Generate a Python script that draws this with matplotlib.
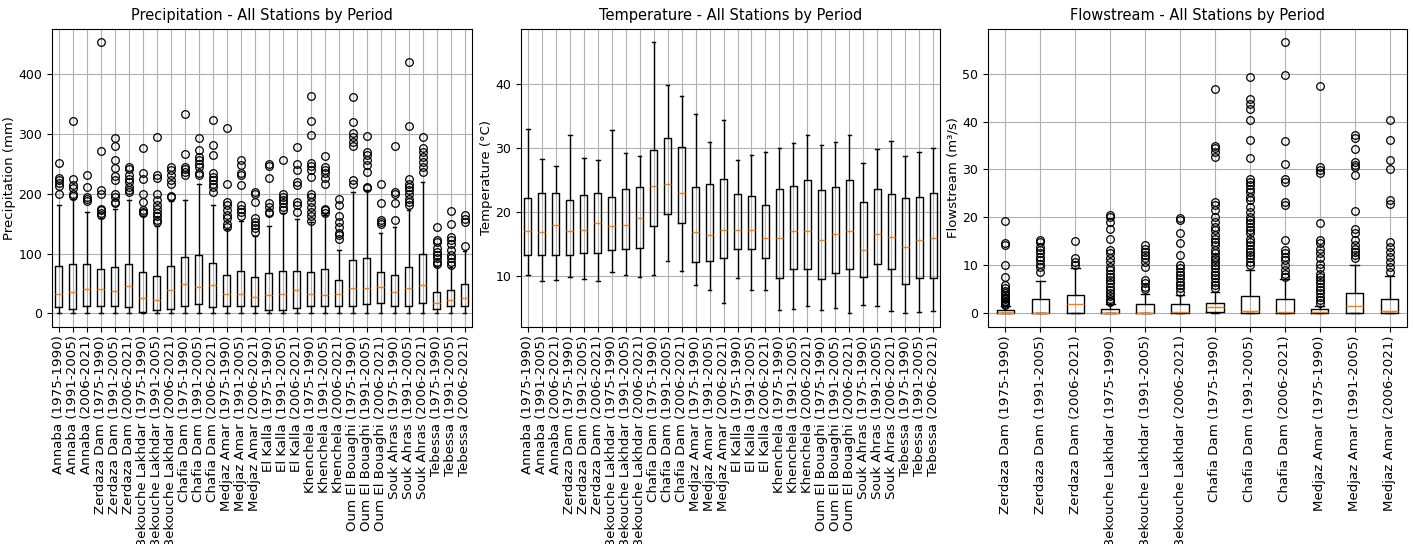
import matplotlib
matplotlib.use("Agg")
import matplotlib.pyplot as plt

stations = ["Annaba", "Zerdaza Dam", "Bekouche Lakhdar", "Chafia Dam", "Medjaz Amar",
            "El Kalla", "Khenchela", "Oum El Bouaghi", "Souk Ahras", "Tebessa"]
periods = ["1975-1990", "1991-2005", "2006-2021"]
flow_stations = ["Zerdaza Dam", "Bekouche Lakhdar", "Chafia Dam", "Medjaz Amar"]

# precipitation (mm), 30 boxes
prec_q1 = [10, 8, 12, 13, 12, 10, 3, 5.5, 6.7, 13, 15.6, 10, 12, 12, 12, 5.6, 5.6, 8.4, 12, 12,
           12, 12, 15.6, 18, 12, 12, 16.7, 6.7, 12, 12]
prec_med = [32, 36, 40, 41, 37, 46, 26, 22, 39, 49, 44.6, 47, 32, 32, 27, 31, 33, 39, 32, 31,
            32, 42, 42, 44, 35, 42, 47, 18, 22, 25]
prec_q3 = [79.7, 82, 82, 73.5, 77.5, 82, 68.5, 63, 79.7, 93.6, 97.5, 85, 65, 71, 61, 67, 71, 71, 68.5, 73.5,
           56, 90, 92, 68.5, 65, 77, 98.6, 36, 39, 49]
prec_lo = [0] * 30
prec_hi = [182, 192, 169, 160, 175, 189, 162, 146, 188, 190, 215.6, 182, 141, 155, 130, 146.5, 168, 158, 152, 165,
           106, 203, 206, 135, 144, 172, 219, 79, 78, 104]
prec_fliers = [
    [251, 227, 223, 218, 213, 200],
    [321, 224, 214, 209, 200, 196],
    [232, 212, 195, 191, 188],
    [453, 271, 206, 199, 175, 172, 168, 165],
    [293, 279, 257, 243, 230, 223, 199, 194, 187, 184],
    [245, 241, 231, 224, 219, 212, 206, 203],
    [276, 235, 224, 200, 187, 173, 170, 168],
    [295, 231, 226, 200, 189, 182, 175, 167, 162, 156, 152],
    [245, 240, 231, 223, 217, 197, 194],
    [333, 266, 245, 241, 237, 231],
    [294, 273, 261, 256, 250, 245, 234, 231],
    [324, 281, 265, 234, 228, 223, 217, 212, 203],
    [310, 216, 187, 181, 173, 164, 159, 150, 145],
    [256, 248, 234, 231, 214, 181, 175, 170, 162],
    [203, 200, 187, 159, 153, 148, 142, 136],
    [250, 247, 226, 184, 178, 170, 167],
    [256, 200, 195, 190, 185, 178, 172],
    [278, 250, 240, 220, 214, 187, 181, 170],
    [363, 321, 298, 251, 247, 240, 228, 200, 195, 187, 178, 170, 162, 155],
    [263, 245, 240, 234, 226, 217, 175, 172, 167],
    [192, 181, 162, 153, 145, 134, 131, 125],
    [362, 320, 301, 295, 287, 279, 223, 217],
    [296, 270, 265, 256, 248, 237, 212, 209],
    [217, 184, 156, 153, 150],
    [279, 203, 200, 184, 156],
    [420, 313, 224, 217, 212, 206, 200, 192, 187, 181],
    [295, 276, 270, 262, 253, 245, 237],
    [145, 122, 120, 109, 103, 97, 92, 86, 82],
    [171, 149, 128, 122, 116, 106, 97, 92, 86, 81],
    [164, 158, 152, 113],
]

# temperature (C), 30 boxes, no fliers
temp_lo = [10.1, 9.1, 9.3, 9.8, 9.5, 9.1, 10.6, 10.1, 9.8, 10.1, 12.3, 10.8, 8.5, 7.8, 5.7,
           9.6, 7.8, 7.8, 4.6, 4.8, 5.2, 4.6, 4.9, 4.1, 5.4, 5.2, 4.5, 4.1, 4.3, 4.4]
temp_q1 = [13.2, 13.2, 13.2, 13.2, 13.5, 13.6, 14.0, 14.2, 14.4, 17.7, 19.6, 18.3, 12.1, 12.3, 12.8,
           14.1, 14.1, 12.8, 9.7, 11.0, 11.0, 9.5, 10.4, 11.0, 9.8, 11.9, 11.0, 8.7, 9.6, 9.7]
temp_med = [17.0, 16.8, 18.0, 17.0, 17.2, 18.2, 17.7, 18.0, 19.0, 24.0, 24.3, 22.9, 16.9, 16.3, 17.1,
            17.2, 17.2, 15.9, 15.9, 17.0, 17.0, 15.6, 16.5, 17.0, 14.0, 16.5, 16.1, 14.5, 15.6, 15.9]
temp_q3 = [22.2, 23.0, 23.0, 21.8, 22.7, 23.0, 22.3, 23.5, 23.8, 29.7, 31.5, 30.2, 23.8, 24.3, 25.1,
           22.8, 22.5, 21.0, 23.6, 24.1, 24.9, 23.4, 23.8, 24.9, 21.5, 23.5, 22.8, 22.2, 22.3, 23.0]
temp_hi = [33.0, 28.2, 27.2, 32.0, 28.4, 28.1, 32.8, 29.2, 28.7, 46.5, 39.8, 38.1, 35.3, 30.9, 34.3,
           28.1, 28.9, 29.4, 30.0, 30.7, 32.0, 30.4, 30.9, 32.0, 27.7, 29.8, 31.1, 28.7, 29.4, 30.0]

# flowstream (m3/s), 12 boxes
flow_lo = [0] * 12
flow_q1 = [0, 0, 0.1, 0, 0, 0, 0.2, 0, 0, 0, 0, 0]
flow_med = [0.15, 0.15, 1.9, 0.15, 0.15, 0.35, 1.25, 0.55, 0.35, 0.2, 1.5, 0.55]
flow_q3 = [0.7, 2.9, 3.8, 0.9, 1.9, 1.9, 2.1, 3.6, 3.1, 1.0, 4.3, 3.1]
flow_hi = [1.6, 6.7, 9.4, 2.0, 4.0, 3.8, 4.5, 9.0, 7.1, 1.5, 10.1, 7.8]
flow_fliers = [
    [19.2, 14.6, 14.2, 10.0, 7.5, 6.0, 5.2, 4.6, 4.2, 3.8, 3.5, 3.2, 2.9, 2.6, 2.3, 2.0, 1.8],
    [15.3, 14.8, 13.9, 13.2, 12.5, 11.8, 11.1, 10.4, 9.7, 8.7],
    [15.1, 11.5, 10.8, 10.1],
    [20.5, 20.0, 19.1, 17.5, 15.6, 13.2, 12.5, 11.5, 10.8, 9.7, 9.0, 8.3, 7.6, 6.9, 6.25, 5.6,
     4.9, 4.2, 3.6, 3.1, 2.6, 2.3],
    [14.2, 13.5, 12.8, 12.2, 11.5, 10.8, 9.7, 6.9, 6.25, 5.6, 5.0],
    [19.8, 19.4, 16.7, 14.7, 12.2, 10.1, 9.4, 8.7, 8.0, 7.3, 6.6, 5.9, 5.2, 4.5],
    [46.7, 35.0, 34.4, 33.7, 32.6, 23.3, 22.6, 21.5, 20.1, 19.1, 18.1, 17.4, 16.3, 15.6, 14.9,
     14.2, 13.2, 12.5, 11.8, 11.25, 10.8, 10.1, 9.4, 8.7, 8.0, 7.3, 6.6, 5.9, 5.2],
    [49.3, 44.6, 43.75, 42.7, 40.3, 36.1, 32.4, 28.1, 27.4, 26.7, 26.0, 25.3, 24.3, 23.6, 22.2,
     21.2, 20.1, 19.4, 18.75, 18.1, 17.4, 16.7, 15.6, 14.9, 14.2, 13.5, 12.8, 12.2, 11.5, 10.8, 10.1],
    [56.5, 49.7, 36.0, 31.1, 28.1, 27.4, 23.3, 22.6, 15.3, 13.2, 12.5, 11.8, 11.1, 10.1, 9.0, 8.3, 7.6],
    [47.4, 30.6, 29.9, 29.2, 18.9, 15.3, 14.6, 13.5, 12.5, 11.5, 10.4, 9.4, 8.3, 7.6, 6.9, 6.25,
     5.6, 4.9, 4.2, 3.5, 2.8, 2.1],
    [37.2, 36.5, 34.2, 31.6, 31.0, 30.6, 28.8, 21.4, 17.6, 16.7, 15.3, 14.2, 13.5, 12.8, 12.2, 11.5],
    [40.3, 36.1, 31.9, 30.2, 23.6, 22.9, 14.9, 13.9, 12.8, 11.8, 10.8, 9.7, 8.7],
]

all_labels = [f"{s} ({p})" for s in stations for p in periods]
flow_labels = [f"{s} ({p})" for s in flow_stations for p in periods]


def make_stats(lo, q1, med, q3, hi, fliers=None):
    stats = []
    for i in range(len(med)):
        stats.append({"whislo": lo[i], "q1": q1[i], "med": med[i], "q3": q3[i],
                      "whishi": hi[i], "fliers": fliers[i] if fliers else []})
    return stats


fig = plt.figure(figsize=(14.13, 5.44), dpi=100)
axes = [fig.add_axes([0.0368, 0.399, 0.297, 0.548]),
        fig.add_axes([0.3687, 0.399, 0.2966, 0.548]),
        fig.add_axes([0.6992, 0.399, 0.2966, 0.548])]

panels = [
    (make_stats(prec_lo, prec_q1, prec_med, prec_q3, prec_hi, prec_fliers), all_labels,
     "Precipitation - All Stations by Period", "Precipitation (mm)"),
    (make_stats(temp_lo, temp_q1, temp_med, temp_q3, temp_hi), all_labels,
     "Temperature - All Stations by Period", "Temperature (°C)"),
    (make_stats(flow_lo, flow_q1, flow_med, flow_q3, flow_hi, flow_fliers), flow_labels,
     "Flowstream - All Stations by Period", "Flowstream (m³/s)"),
]

for ax, (stats, labels, title, ylabel) in zip(axes, panels):
    ax.bxp(stats, flierprops=dict(marker="o", markersize=5.5, markerfacecolor="none",
                                  markeredgecolor="black", markeredgewidth=0.9),
           medianprops=dict(color="C1"))
    ax.set_xticks(range(1, len(labels) + 1))
    ax.set_xticklabels(labels, rotation=90, fontsize=9.6)
    ax.tick_params(axis="x", pad=2.5)
    ax.tick_params(axis="y", labelsize=9)
    ax.set_title(title, fontsize=10.5)
    ax.set_ylabel(ylabel, fontsize=9.5, labelpad=2)
    ax.grid(True)
    ax.set_axisbelow(True)

fig.savefig("out.png", dpi=100)
